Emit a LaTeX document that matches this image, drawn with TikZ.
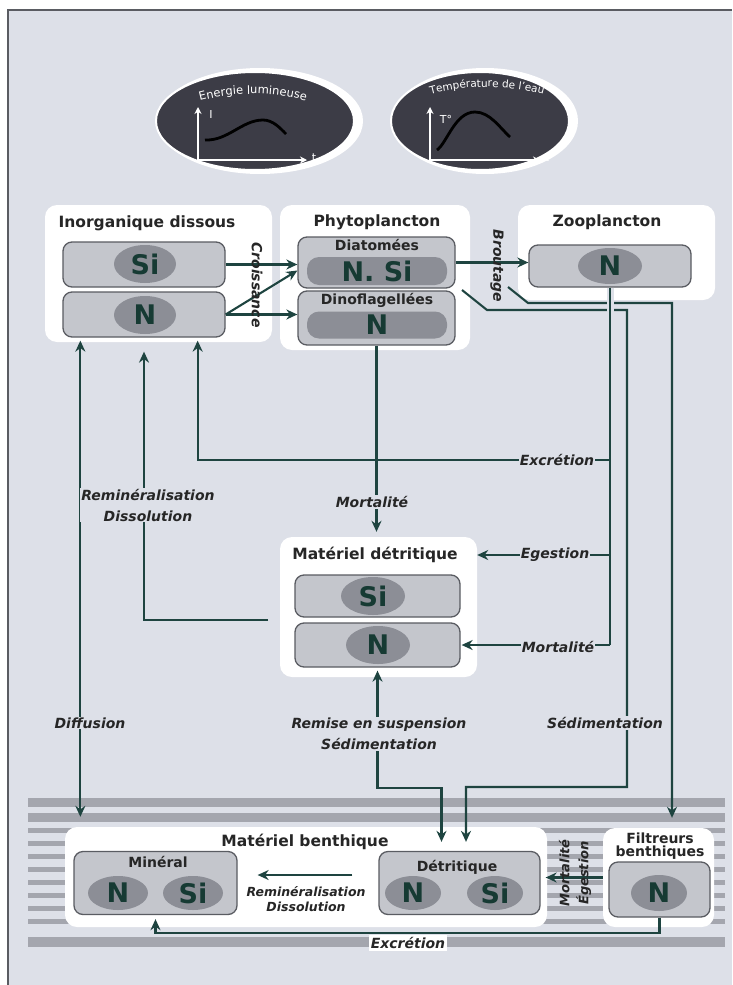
\documentclass[tikz,border=0pt]{standalone}
\usepackage{fontspec}
\setmainfont{DejaVu Sans}
\usetikzlibrary{arrows.meta,calc,positioning,shapes.geometric,decorations.text}
\definecolor{bgc}{HTML}{DDE0E8}
\definecolor{edgec}{HTML}{5A5C62}
\definecolor{boxc}{HTML}{C4C6CC}
\definecolor{blobc}{HTML}{8C8E96}
\definecolor{elemc}{HTML}{163A33}
\definecolor{linec}{HTML}{1E4440}
\definecolor{stripec}{HTML}{A4A6AE}
\definecolor{darkc}{HTML}{3C3C46}
\definecolor{txtc}{HTML}{262626}
\tikzset{
  panel/.style={fill=white, rounded corners=12pt, inner sep=0pt},
  box/.style={fill=boxc, draw=edgec, line width=1.3pt, rounded corners=9pt, inner sep=0pt},
  blob/.style={ellipse, fill=blobc, text=elemc, inner sep=0pt, font=\bfseries\fontsize{27}{27}\selectfont},
  pill/.style={fill=blobc, text=elemc, rounded corners=12pt, inner sep=0pt, font=\bfseries\fontsize{27}{27}\selectfont},
  ttl/.style={text=txtc, font=\bfseries\fontsize{15.5}{17}\selectfont, align=center},
  sub/.style={text=txtc, font=\bfseries\fontsize{14}{15}\selectfont, inner sep=0pt},
  lbl/.style={text=txtc, font=\bfseries\itshape\fontsize{14}{21}\selectfont, align=center, inner sep=1pt},
  flow/.style={draw=linec, line width=2.1pt, -{Stealth[length=11pt,width=10pt]}},
  flowtwo/.style={draw=linec, line width=2.1pt, {Stealth[length=11pt,width=10pt]}-{Stealth[length=11pt,width=10pt]}},
  wire/.style={draw=linec, line width=2.1pt},
  overpass/.style={preaction={draw=bgc, line width=7pt}},
  axarrow/.style={white, line width=2.2pt, {Stealth[length=7pt,width=7pt]}-{Stealth[length=7pt,width=7pt]}},
  axl/.style={text=white, font=\fontsize{11}{11}\selectfont, inner sep=0pt},
}
\begin{document}
\begin{tikzpicture}[x=1pt,y=1pt]
  \useasboundingbox (0,0) rectangle (732,-985);
  \fill[bgc] (8,-10) rectangle (732,-985);
  \draw[edgec, line width=1.5pt] (8,-985) -- (8,-10) -- (732,-10);

  % sediment layers
  \fill[stripec] (28,-798) rectangle (725,-807);
  \fill[stripec] (28,-813) rectangle (725,-822);
  \foreach \y in {828,841,...,919}{\fill[stripec] (28,-\y) rectangle (725,-\y-5);}
  \fill[stripec] (28,-937) rectangle (725,-947);

  % forcings
  \fill[white] (260,-121) ellipse[x radius=103, y radius=53];
  \fill[white] (485,-121) ellipse[x radius=93, y radius=53];
  \node[ellipse, fill=darkc, draw=white, line width=2pt, minimum width=198, minimum height=98] (eLum) at (255,-121) {};
  \node[ellipse, fill=darkc, draw=white, line width=2pt, minimum width=178, minimum height=98] (eTemp) at (480,-121) {};
  \path[decorate, decoration={text along path, text align=center, text={|\color{white}\fontsize{11.5}{13}\selectfont|Energie lumineuse}}]
    (253,-304) ++(110:210) arc[start angle=110, end angle=70, radius=210];
  \path[decorate, decoration={text along path, text align=center, text={|\color{white}\fontsize{10.5}{13}\selectfont|Température de l'eau}}]
    (487,-307) ++(109:220) arc[start angle=109, end angle=71, radius=220];
  \draw[axarrow] (198,-107) -- (198,-160) -- (307,-160);
  \draw[axarrow] (430,-107) -- (430,-160) -- (540,-160);
  \draw[black, line width=2.8pt] (205,-140) .. controls (228,-141) and (242,-120) .. (263,-120) .. controls (273,-120) and (280,-128) .. (286,-134);
  \draw[black, line width=2.8pt] (437,-150) .. controls (447,-143) and (455,-112) .. (475,-112) .. controls (490,-112) and (500,-128) .. (510,-137);
  \node[axl] (lumI) at (211,-114) {I};
  \node[axl] (lumt) at (314,-158) {t};
  \node[axl] (tempT) at (446,-119) {T°};
  \node[axl] (tempt) at (547,-158) {t};

  % compartments
  \node[panel, minimum width=227, minimum height=137] (pInorg) at (158.5,-273.5) {};
  \node[panel, minimum width=190, minimum height=145] (pPhyto) at (375,-277.5) {};
  \node[panel, minimum width=197, minimum height=95] (pZoo) at (616.5,-252.5) {};
  \node[panel, minimum width=197, minimum height=140] (pDet) at (378.5,-607) {};
  \node[panel, minimum width=482, minimum height=100] (pBen) at (306,-877) {};
  \node[panel, minimum width=111, minimum height=99] (pFil) at (658.5,-877.5) {};

  \node[ttl] (tInorg) at (147,-223) {Inorganique dissous};
  \node[ttl] (tPhyto) at (377,-222) {Phytoplancton};
  \node[ttl] (tZoo) at (607,-222) {Zooplancton};
  \node[ttl] (tDet) at (375,-555) {Matériel détritique};
  \node[ttl] (tBen) at (305,-842) {Matériel benthique};
  \node[ttl, font=\bfseries\fontsize{14}{13}\selectfont] (tFil) at (660,-846) {Filtreurs\\benthiques};

  \node[box, minimum width=162, minimum height=45] (iSi) at (144,-264.5) {};
  \node[box, minimum width=162, minimum height=45] (iN) at (144,-314.5) {};
  \node[box, minimum width=157, minimum height=51] (dia) at (376.5,-262.5) {};
  \node[box, minimum width=157, minimum height=54] (dino) at (376.5,-318) {};
  \node[box, minimum width=162, minimum height=42] (zbox) at (610,-266) {};
  \node[box, minimum width=165, minimum height=42] (dSi) at (377.5,-596) {};
  \node[box, minimum width=165, minimum height=44] (dN) at (377.5,-645) {};
  \node[box, minimum width=163, minimum height=63] (mineral) at (155.5,-883) {};
  \node[box, minimum width=161, minimum height=63] (bDet) at (459.5,-883) {};
  \node[box, minimum width=101, minimum height=55] (fbox) at (659.5,-889.5) {};

  \node[blob, minimum width=62, minimum height=38] (iSiE) at (145,-264) {Si};
  \node[blob, minimum width=62, minimum height=38] (iNE) at (145,-315) {N};
  \node[sub] (sDia) at (377,-245) {Diatomées};
  \node[pill, minimum width=140, minimum height=28] (diaE) at (377,-271) {N. Si};
  \node[sub] (sDino) at (377,-300) {Dinoflagellées};
  \node[pill, minimum width=140, minimum height=27] (dinoE) at (377,-325) {N};
  \node[blob, minimum width=64, minimum height=36] (zooE) at (610,-266) {N};
  \node[blob, minimum width=64, minimum height=38] (dSiE) at (373,-596) {Si};
  \node[blob, minimum width=64, minimum height=38] (dNE) at (378,-645) {N};
  \node[sub] (sMin) at (158,-862) {Minéral};
  \node[blob, minimum width=60, minimum height=34] (minNE) at (118,-893) {N};
  \node[blob, minimum width=60, minimum height=34] (minSiE) at (193,-893) {Si};
  \node[sub] (sDet) at (457,-867) {Détritique};
  \node[blob, minimum width=56, minimum height=34] (detNE) at (413,-893) {N};
  \node[blob, minimum width=56, minimum height=34] (detSiE) at (495,-893) {Si};
  \node[blob, minimum width=56, minimum height=36] (filNE) at (659,-893) {N};

  % fluxes
  \draw[flow] (iSi.east) -- (iSi.east -| dia.west);
  \draw[flow] (iN.east) -- ([yshift=-8pt]dia.west);
  \draw[flow] (iN.east) -- (iN.east -| dino.west);
  \draw[flow] (dia.east) -- (dia.east -| zbox.west);
  \coordinate (s1) at (462,-290);
  \coordinate (s2) at (508,-287);
  \draw[flow, shorten >=9pt] (s1) -- (487,-310) -- (627,-310) -- (627,-787) -| ([xshift=6.5pt]bDet.north);
  \draw[flow, shorten >=10pt] (s2) -- (528,-303) -- (672,-303) -- ([xshift=13.5pt]pFil.north);
  \draw[wire, overpass] (zbox.south) -- (zbox.south |- dN.east);
  \coordinate (jExc) at (610,-460);
  \draw[flow, shorten >=3pt] (jExc) -| ([xshift=-28pt]iN.south east);
  \draw[flow] (zbox.south |- tDet) -- (tDet -| pDet.east);
  \draw[flow, shorten >=1pt] (zbox.south |- dN.east) -- (dN.east);
  \draw[flow, shorten >=5pt] (dino.south) -- (dino.south |- pDet.north);
  \coordinate (jRem) at (268,-620);
  \draw[flow, shorten >=14pt] (jRem) -| (iN.south);
  \draw[flowtwo, shorten <=3pt, shorten >=10pt] ([xshift=18pt]iN.south west) -- ([xshift=18pt]iN.south west |- pBen.north);
  \draw[flowtwo, shorten <=3pt, shorten >=9pt] (dN.south) -- ++(0,-120) -| ([xshift=-18pt]bDet.north);
  \draw[flow, shorten <=26pt, shorten >=20pt] ([yshift=8pt]bDet.west) -- ([yshift=8pt]mineral.east);
  \draw[flow, shorten >=5pt] (pFil.west) -- (pFil.west -| bDet.east);
  \draw[flow, shorten >=4pt] (fbox.south) -- ++(0,-15) -| (mineral.south);

  % flux labels
  \node[lbl, rotate=-90, font=\bfseries\itshape\fontsize{14}{15}\selectfont] (lCro) at (257,-285) {Croissance};
  \node[lbl, rotate=-90, font=\bfseries\itshape\fontsize{14}{15}\selectfont] (lBro) at (497,-266) {Broutage};
  \node[lbl, fill=bgc] (lExc) at (557,-460) {Excrétion};
  \node[lbl, fill=bgc] (lMorP) at (372,-502) {Mortalité};
  \node[lbl, fill=bgc] (lRem) at (148,-505) {Reminéralisation\\Dissolution};
  \node[lbl, fill=bgc] (lEge) at (555,-555) {Egestion};
  \node[lbl, fill=bgc] (lMorZ) at (558,-647) {Mortalité};
  \node[lbl, fill=bgc] (lDif) at (90,-723) {Diffusion};
  \node[lbl, fill=bgc] (lRes) at (379,-734) {Remise en suspension\\Sédimentation};
  \node[lbl, fill=bgc] (lSed) at (605,-723) {Sédimentation};
  \node[lbl, font=\bfseries\itshape\fontsize{12.5}{15}\selectfont] (lRemB) at (306,-899) {Reminéralisation\\Dissolution};
  \node[lbl, rotate=90, font=\bfseries\itshape\fontsize{13}{19}\selectfont] (lMorB) at (575,-873) {Mortalité\\Égestion};
  \node[lbl, fill=white, inner sep=2pt] (lExcB) at (408,-943) {Excrétion};
\end{tikzpicture}
\end{document}
